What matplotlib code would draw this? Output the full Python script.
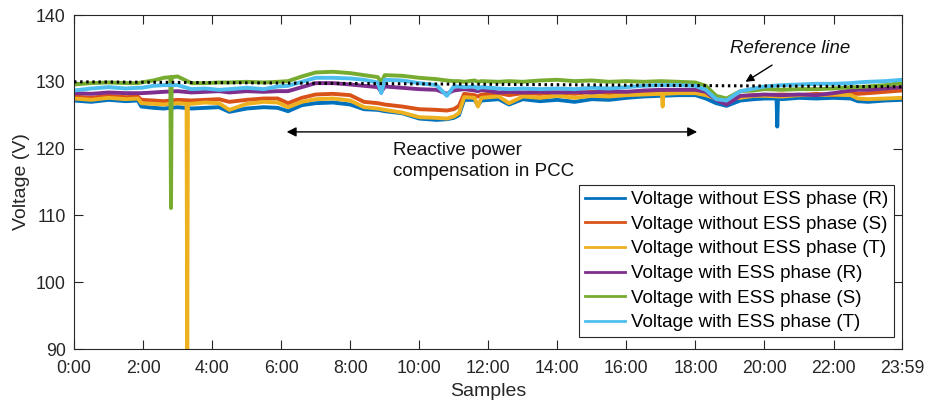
import numpy as np
import matplotlib
matplotlib.use("Agg")
import matplotlib.pyplot as plt

plt.rcParams.update({"font.family": ["Liberation Sans", "DejaVu Sans"], "font.size": 12.5})

# time grid (hours) shared by all series
hours = [0, 0.5, 1, 1.5, 1.85, 1.95, 2.3, 2.6, 3.0, 3.4, 3.8, 4.2, 4.5, 5.0, 5.5, 5.9,
         6.2, 6.6, 7.0, 7.5, 8.0, 8.4, 8.8, 8.9, 9.0, 9.5, 10.0, 10.5, 10.8, 11.0, 11.15,
         11.3, 11.6, 11.7, 11.8, 12.3, 12.6, 13.0, 13.5, 14.0, 14.5, 15.0, 15.5, 16.0,
         16.5, 17.0, 17.5, 18.0, 18.3, 18.6, 18.9, 19.3, 19.7, 20.0, 20.5, 21.0, 21.5,
         22.0, 22.5, 22.7, 23.0, 23.5, 23.98]

wo_r = [127.2, 127.0, 127.3, 127.1, 127.2, 126.3, 126.1, 126.0, 126.2, 126.0, 126.1, 126.2,
        125.5, 126.0, 126.2, 126.1, 125.6, 126.5, 126.8, 126.9, 126.6, 125.9, 125.8, 125.7,
        125.6, 125.3, 124.5, 124.3, 124.4, 124.6, 125.0, 127.3, 127.3, 126.5, 127.2, 127.4,
        126.6, 127.4, 127.1, 127.3, 127.0, 127.4, 127.3, 127.6, 127.8, 127.9, 128.0, 128.0,
        127.5, 126.8, 126.4, 127.2, 127.4, 127.5, 127.4, 127.6, 127.5, 127.6, 127.5, 127.1,
        127.0, 127.2, 127.3]
wo_s = [127.8, 127.6, 127.9, 127.7, 127.8, 127.3, 127.2, 127.1, 127.3, 127.2, 127.3, 127.4,
        127.0, 127.3, 127.5, 127.5, 126.8, 127.6, 128.1, 128.2, 128.0, 127.0, 126.8, 126.7,
        126.6, 126.3, 125.9, 125.8, 125.7, 125.9, 126.4, 128.2, 128.0, 127.8, 128.1, 128.3,
        128.0, 128.3, 128.2, 128.4, 128.2, 128.5, 128.3, 128.5, 128.4, 128.5, 128.6, 128.6,
        128.3, 127.6, 127.3, 127.8, 128.0, 128.0, 128.1, 128.0, 128.2, 128.0, 128.3, 128.2,
        128.3, 128.5, 128.7]
wo_t = [127.5, 127.3, 127.6, 127.4, 127.5, 126.8, 126.7, 126.6, 126.8, 126.7, 126.9, 126.8,
        125.8, 126.7, 127.0, 126.9, 126.2, 127.0, 127.4, 127.5, 127.2, 126.2, 126.0, 125.9,
        125.8, 125.4, 124.7, 124.6, 124.5, 124.8, 125.3, 127.7, 127.6, 126.3, 127.6, 127.8,
        126.8, 127.8, 127.6, 127.9, 127.6, 127.9, 127.8, 128.0, 128.1, 128.2, 128.3, 128.3,
        128.0, 127.5, 127.4, 127.6, 127.9, 127.9, 127.8, 128.0, 128.0, 128.1, 128.0, 127.5,
        127.4, 127.5, 127.6]
w_r = [128.3, 128.2, 128.4, 128.3, 128.3, 128.3, 128.4, 128.5, 128.6, 128.4, 128.5, 128.6,
       128.4, 128.6, 128.5, 128.6, 128.6, 129.2, 129.8, 129.8, 129.6, 129.4, 129.2, 128.5,
       129.3, 129.1, 128.9, 128.8, 128.2, 128.7, 128.8, 128.9, 128.7, 128.6, 128.8, 128.4,
       128.5, 128.4, 128.5, 128.4, 128.5, 128.4, 128.6, 128.5, 128.7, 128.8, 128.8, 128.8,
       128.5, 127.3, 126.6, 127.9, 128.0, 128.1, 128.0, 128.1, 128.0, 128.3, 128.7, 128.8,
       128.8, 129.0, 129.2]
w_s = [129.6, 129.8, 129.9, 129.8, 129.8, 129.9, 130.2, 130.6, 130.8, 129.8, 129.8, 129.9,
       129.9, 130.0, 129.9, 130.0, 130.1, 130.8, 131.4, 131.5, 131.3, 131.0, 130.7, 129.9,
       131.0, 130.9, 130.6, 130.4, 130.2, 130.1, 130.1, 130.0, 130.2, 130.0, 130.1, 130.0,
       130.1, 130.0, 130.2, 130.3, 130.1, 130.2, 130.0, 130.1, 130.0, 130.1, 130.0, 129.9,
       129.4, 127.9, 127.5, 128.6, 128.7, 128.9, 128.8, 128.9, 128.9, 129.0, 129.2, 129.2,
       129.3, 129.5, 129.8]
w_t = [128.7, 129.0, 129.2, 129.0, 129.1, 129.1, 129.4, 129.5, 129.5, 128.9, 129.0, 128.8,
       128.9, 129.1, 128.9, 129.3, 129.4, 130.0, 130.6, 130.6, 130.5, 130.3, 129.9, 128.3,
       130.3, 130.2, 129.8, 129.5, 127.9, 129.3, 129.3, 129.2, 129.3, 129.0, 129.2, 129.0,
       128.9, 129.0, 128.9, 129.0, 128.9, 129.1, 129.0, 129.2, 129.4, 129.5, 129.5, 129.4,
       128.8, 127.4, 127.2, 128.6, 129.0, 129.3, 129.5, 129.6, 129.7, 129.7, 129.8, 129.9,
       130.0, 130.1, 130.3]

# narrow spikes (hour, value) per series
spk_wo_r = [(20.35, 127.5), (20.37, 123.3), (20.39, 127.5)]
spk_wo_t = [(3.26, 126.7), (3.28, 89.0), (3.30, 126.7), (17.03, 128.2), (17.05, 126.3), (17.07, 128.2)]
spk_w_s = [(2.79, 130.7), (2.81, 111.1), (2.83, 130.7)]

ref_t = [0, 23.98]
ref_v = [130.0, 129.25]

labels = ["Voltage without ESS phase (R)", "Voltage without ESS phase (S)",
          "Voltage without ESS phase (T)", "Voltage with ESS phase (R)",
          "Voltage with ESS phase (S)", "Voltage with ESS phase (T)"]
colors = ["#0072BD", "#D95319", "#EDB120", "#7E2F8E", "#77AC30", "#4DBEEE"]
tick_h = [0, 2, 4, 6, 8, 10, 12, 14, 16, 18, 20, 22, 23.983]
tick_lbl = ["0:00", "2:00", "4:00", "6:00", "8:00", "10:00", "12:00", "14:00",
            "16:00", "18:00", "20:00", "22:00", "23:59"]


def merge(vals, spikes):
    t = list(hours) + [s[0] for s in spikes]
    v = list(vals) + [s[1] for s in spikes]
    o = np.argsort(t)
    return np.array(t)[o], np.array(v)[o]


fig = plt.figure(figsize=(9.29, 4.07), dpi=100)
ax = fig.add_axes([74 / 929, 1 - 349 / 407, 828 / 929, 334 / 407])
series = [(wo_r, spk_wo_r), (wo_s, []), (wo_t, spk_wo_t), (w_r, []), (w_s, spk_w_s), (w_t, [])]
lines = []
for (vals, spk), c, lab in zip(series, colors, labels):
    t, v = merge(vals, spk)
    ln, = ax.plot(t, v, color=c, lw=2.8, label=lab)
    lines.append(ln)
ax.plot(ref_t, ref_v, color="k", lw=2.2, ls=(0, (0.8, 1.2)), zorder=5)

ax.set_xlim(0, 23.983)
ax.set_ylim(90, 140)
ax.set_yticks([90, 100, 110, 120, 130, 140])
ax.set_xticks(tick_h)
ax.set_xticklabels(tick_lbl)
ax.tick_params(direction="in", length=6.5, width=0.8, top=True, right=True,
               colors="#262626", labelcolor="#262626", labelsize=12.8)
ax.tick_params(axis="x", pad=8)
ax.tick_params(axis="y", pad=6)
for s in ax.spines.values():
    s.set_color("#262626"); s.set_linewidth(0.8)
ax.set_xlabel("Samples", fontsize=14, color="#262626", labelpad=4)
ax.set_ylabel("Voltage (V)", fontsize=14, color="#262626", labelpad=4)

# annotations
ax.annotate("", xy=(6.16, 122.5), xytext=(18.05, 122.5),
            arrowprops=dict(arrowstyle="<|-|>", color="k", lw=1, mutation_scale=14, shrinkA=0, shrinkB=0))
ax.text(9.25, 121.0, "Reactive power\ncompensation in PCC", fontsize=13.5, va="top", ha="left",
        linespacing=1.3, color="#111111")
ax.annotate("", xy=(19.45, 130.0), xytext=(20.22, 132.5),
            arrowprops=dict(arrowstyle="-|>", color="k", lw=1, mutation_scale=12, shrinkA=0, shrinkB=0))
ax.text(20.75, 135.0, "Reference line", fontsize=13.4, style="italic", ha="center", va="center",
        color="#111111")

leg = ax.legend(handles=lines, loc="lower right", bbox_to_anchor=(0.990, 0.036), borderaxespad=0,
                fancybox=False, edgecolor="#262626", framealpha=1, fontsize=13.5,
                handlelength=2.15, handletextpad=0.3, labelspacing=0.4, borderpad=0.3)
leg.get_frame().set_linewidth(0.8)
for h in leg.get_lines():
    h.set_linewidth(2)

fig.savefig("out.png", dpi=100)
